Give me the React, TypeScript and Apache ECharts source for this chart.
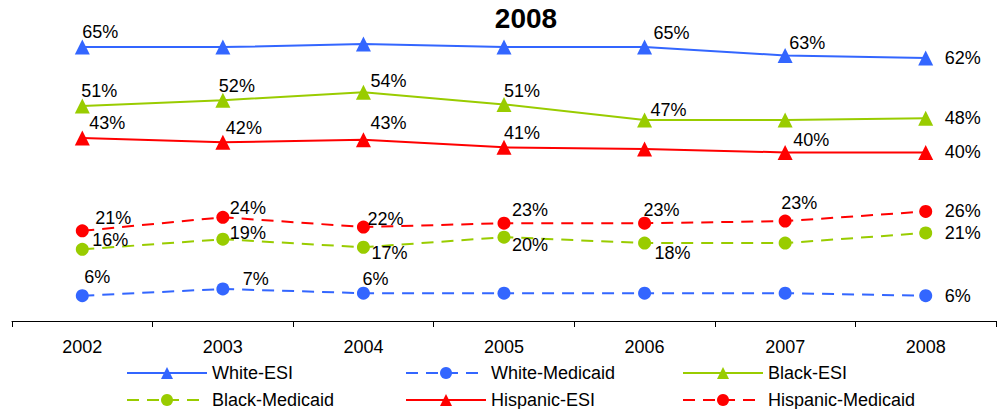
import React, { useEffect, useRef } from "react";
import * as echarts from "echarts";

const years = ["2002", "2003", "2004", "2005", "2006", "2007", "2008"];

const whiteESI = [65, 65, 65.7, 65, 65, 63, 62.4];
const whiteMedicaid = [6, 7.6, 6.6, 6.6, 6.6, 6.6, 6];
const blackESI = [51, 52.4, 54.3, 51.4, 47.7, 47.7, 48.1];
const blackMedicaid = [17, 19.4, 17.5, 19.9, 18.5, 18.5, 20.9];
const hispanicESI = [43.4, 42.4, 43, 41.2, 40.8, 40, 40];
const hispanicMedicaid = [21.4, 24.6, 22.3, 23.2, 23.2, 23.7, 26];

const whiteESILabels = ["65%", null, null, null, "65%", "63%", "62%"];
const whiteMedicaidLabels = ["6%", "7%", "6%", null, null, null, "6%"];
const blackESILabels = ["51%", "52%", "54%", "51%", "47%", null, "48%"];
const blackMedicaidLabels = ["16%", "19%", "17%", "20%", "18%", null, "21%"];
const hispanicESILabels = ["43%", "42%", "43%", "41%", null, "40%", "40%"];
const hispanicMedicaidLabels = ["21%", "24%", "22%", "23%", "23%", "23%", "26%"];

// label placement relative to the marker centre [dx, dy]
const whiteESIOffsets = [[0, -15], [0, -15], [0, -15], [0, -15], [9, -14], [4, -13], [19, 0]];
const whiteMedicaidOffsets = [[2, -19], [20, -10], [-1, -14], [0, -14], [0, -14], [0, -14], [19, 0]];
const blackESIOffsets = [[-1, -15], [-4, -14], [7, -11], [0, -13], [6, -10], [0, -13], [19, 0]];
const blackMedicaidOffsets = [[10, -9], [7, -6], [8, 6], [8, 8], [10, 10], [0, 0], [19, 0]];
const hispanicESIOffsets = [[7, -15], [3, -14], [7, -17], [0, -14], [0, -14], [8, -12], [19, 0]];
const hispanicMedicaidOffsets = [[13, -13], [7, -9], [4, -8], [8, -13], [-1, -13], [-4, -18], [19, 0]];

const BLUE = "#3366FF";
const GREEN = "#99CC00";
const RED = "#FF0000";
const FONT = "Liberation Sans, Arial, sans-serif";
const FS = 18;

function buildData(values: number[], labels: (string | null)[], offsets: number[][], size: number) {
  const half = size / 2;
  return values.map((v, i) => ({
    value: v,
    label: labels[i]
      ? {
          show: true,
          formatter: labels[i] as string,
          position: [half + offsets[i][0], half + offsets[i][1]],
          align: "left",
          verticalAlign: "middle",
          color: "#000",
          fontSize: FS,
          fontFamily: FONT,
        }
      : { show: false },
  }));
}

function makeSeries(
  name: string,
  values: number[],
  labels: (string | null)[],
  offsets: number[][],
  color: string,
  symbol: string,
  dashed: boolean
) {
  const size = symbol === "triangle" ? 15 : 13;
  return {
    name,
    type: "line",
    data: buildData(values, labels, offsets, size),
    symbol,
    symbolSize: size,
    showAllSymbol: true,
    itemStyle: { color },
    lineStyle: { color, width: 2, type: dashed ? [12, 8] : "solid" },
    emphasis: { disabled: true },
  };
}

export default function App() {
  const ref = useRef<HTMLDivElement>(null);

  useEffect(() => {
    if (!ref.current) return;
    const chart = echarts.init(ref.current, null, { renderer: "svg" });
    const legendBase = {
      itemWidth: 80,
      itemHeight: 15,
      itemGap: 0,
      padding: 0,
      textStyle: { fontSize: FS, fontFamily: FONT, color: "#000" },
    };
    chart.setOption({
      animation: false,
      title: {
        text: "2008",
        left: 526,
        top: 4,
        padding: 0,
        textAlign: "center",
        textStyle: { fontSize: 28, fontWeight: "bold", fontFamily: FONT, color: "#000" },
      },
      grid: { left: 12, right: 5, top: 26, bottom: 88, containLabel: false },
      xAxis: {
        type: "category",
        data: years,
        boundaryGap: true,
        axisLine: { lineStyle: { color: "#000", width: 1 } },
        axisTick: { show: true, length: 6, lineStyle: { color: "#000" } },
        axisLabel: { fontSize: FS, fontFamily: FONT, color: "#000", margin: 17 },
      },
      yAxis: {
        type: "value",
        min: 0,
        max: 70,
        show: false,
        splitLine: { show: false },
      },
      legend: [
        { ...legendBase, data: ["White-ESI"], left: 126, top: 364 },
        { ...legendBase, data: ["White-Medicaid"], left: 405, top: 364 },
        { ...legendBase, data: ["Black-ESI"], left: 682, top: 364 },
        { ...legendBase, data: ["Black-Medicaid"], left: 126, top: 391 },
        { ...legendBase, data: ["Hispanic-ESI"], left: 405, top: 391 },
        { ...legendBase, data: ["Hispanic-Medicaid"], left: 682, top: 391 },
      ],
      series: [
        makeSeries("White-ESI", whiteESI, whiteESILabels, whiteESIOffsets, BLUE, "triangle", false),
        makeSeries("White-Medicaid", whiteMedicaid, whiteMedicaidLabels, whiteMedicaidOffsets, BLUE, "circle", true),
        makeSeries("Black-ESI", blackESI, blackESILabels, blackESIOffsets, GREEN, "triangle", false),
        makeSeries("Black-Medicaid", blackMedicaid, blackMedicaidLabels, blackMedicaidOffsets, GREEN, "circle", true),
        makeSeries("Hispanic-ESI", hispanicESI, hispanicESILabels, hispanicESIOffsets, RED, "triangle", false),
        makeSeries("Hispanic-Medicaid", hispanicMedicaid, hispanicMedicaidLabels, hispanicMedicaidOffsets, RED, "circle", true),
      ],
    });
    return () => chart.dispose();
  }, []);

  return (
    <div
      ref={ref}
      style={{ position: "fixed", left: 0, top: 0, width: 1001, height: 409, background: "#fff" }}
    />
  );
}
